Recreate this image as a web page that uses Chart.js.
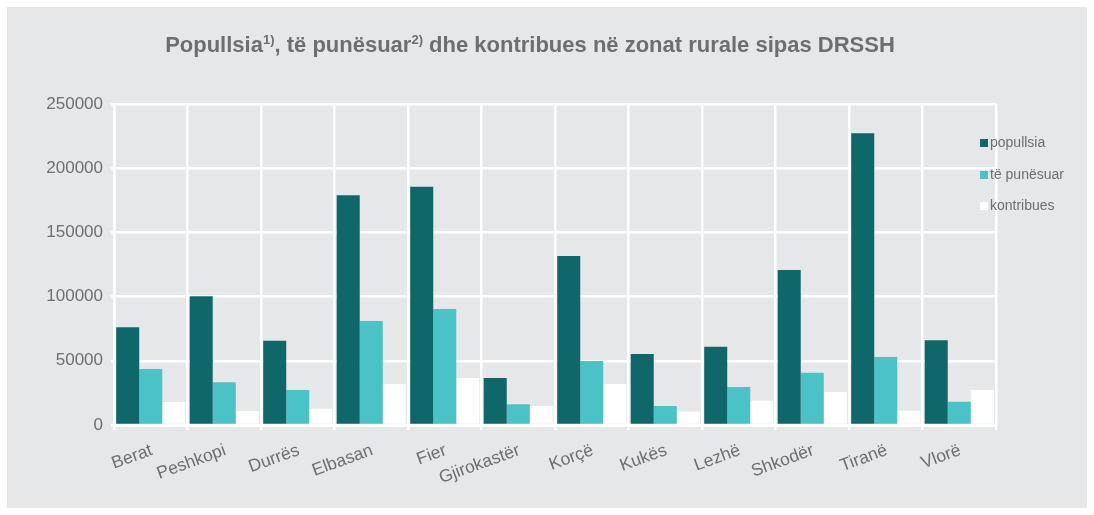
<!DOCTYPE html>
<html>
<head>
<meta charset="utf-8">
<script src="https://cdn.jsdelivr.net/npm/chart.js@4/dist/chart.umd.min.js"></script>
<style>
  body { margin: 0; background: #fff; }
  #box { position: absolute; left: 7px; top: 7px; width: 1080px; height: 501px; background: #e6e7e9; }
  #title { position: absolute; left: 0; width: 1046px; top: 25px; text-align: center;
           font: bold 22px "Liberation Sans", Arial, sans-serif; color: #6d6e70; }
  #title sup { font-size: 13px; vertical-align: 8px; line-height: 0; }
  #legend { position: absolute; left: 973px; top: 127px; font: 14px "Liberation Sans", Arial, sans-serif; color: #6d6e70; }
  #legend div { height: 31.5px; display: flex; align-items: flex-start; }
  #legend span { display: inline-block; width: 8px; height: 8px; margin: 5px 2px 0 0; }
</style>
</head>
<body>
<div id="box">
  <div id="title">Popullsia<sup>1)</sup>, të punësuar<sup>2)</sup> dhe kontribues në zonat rurale sipas DRSSH</div>
  <canvas id="barChart" width="1080" height="501"></canvas>
  <div id="legend"></div>
</div>
<script>
var rajonet = ['Berat', 'Peshkopi', 'Durrës', 'Elbasan', 'Fier', 'Gjirokastër', 'Korçë', 'Kukës', 'Lezhë', 'Shkodër', 'Tiranë', 'Vlorë'];
var popullsia = [76100, 100200, 65700, 178900, 185600, 36600, 131600, 55300, 61000, 120700, 227200, 66000];
var tePunesuar = [43600, 33300, 27300, 81000, 90300, 16100, 49800, 14800, 29600, 40700, 53000, 18100];
var kontribues = [17900, 10900, 12700, 31900, 36600, 14800, 31900, 10400, 18900, 25700, 11100, 27300];
var yTicks = [0, 50000, 100000, 150000, 200000, 250000];

var ngjyrat = ['#10676a', '#4bc2c5', '#ffffff'];
var emrat = ['popullsia', 'të punësuar', 'kontribues'];
var seri = [popullsia, tePunesuar, kontribues];

var gri = '#6d6e70';
var font = 'Liberation Sans, Arial, sans-serif';

var datasets = [];
seri.forEach(function(s, i) {
    datasets.push({
        label: emrat[i],
        data: s,
        backgroundColor: ngjyrat[i],
        borderWidth: 0,
        categoryPercentage: 0.94,
        barPercentage: 1
    });
});

var barChartCanvas = document.getElementById('barChart').getContext('2d');
var barChart = new Chart(barChartCanvas, {
    type: 'bar',
    data: { labels: rajonet, datasets: datasets },
    options: {
        responsive: false,
        animation: false,
        layout: { padding: { top: 97, right: 91, left: 0, bottom: 0 } },
        plugins: { legend: { display: false }, tooltip: { enabled: false } },
        scales: {
            x: {
                grid: { color: '#ffffff', lineWidth: 2.5, tickLength: 5, offset: true },
                border: { color: '#ffffff', width: 3 },
                ticks: { color: gri, font: { family: font, size: 17.5 }, minRotation: 20, maxRotation: 20,
                         padding: 10, labelOffset: 1 },
                afterFit: function(scale) { scale.height = 83; }
            },
            y: {
                min: 0,
                max: 250000,
                afterBuildTicks: function(scale) {
                    scale.ticks = yTicks.map(function(v) { return { value: v }; });
                },
                grid: { color: '#ffffff', lineWidth: 2.5, tickLength: 3 },
                border: { color: '#ffffff', width: 2.5 },
                ticks: { color: gri, font: { family: font, size: 17 }, padding: 8,
                         callback: function(v) { return String(v); } },
                afterFit: function(scale) { scale.width = 107; }
            }
        }
    }
});

var legend = document.getElementById('legend');
emrat.forEach(function(emri, i) {
    var row = document.createElement('div');
    var sq = document.createElement('span');
    sq.style.background = ngjyrat[i];
    row.appendChild(sq);
    row.appendChild(document.createTextNode(emri));
    legend.appendChild(row);
});
</script>
</body>
</html>
